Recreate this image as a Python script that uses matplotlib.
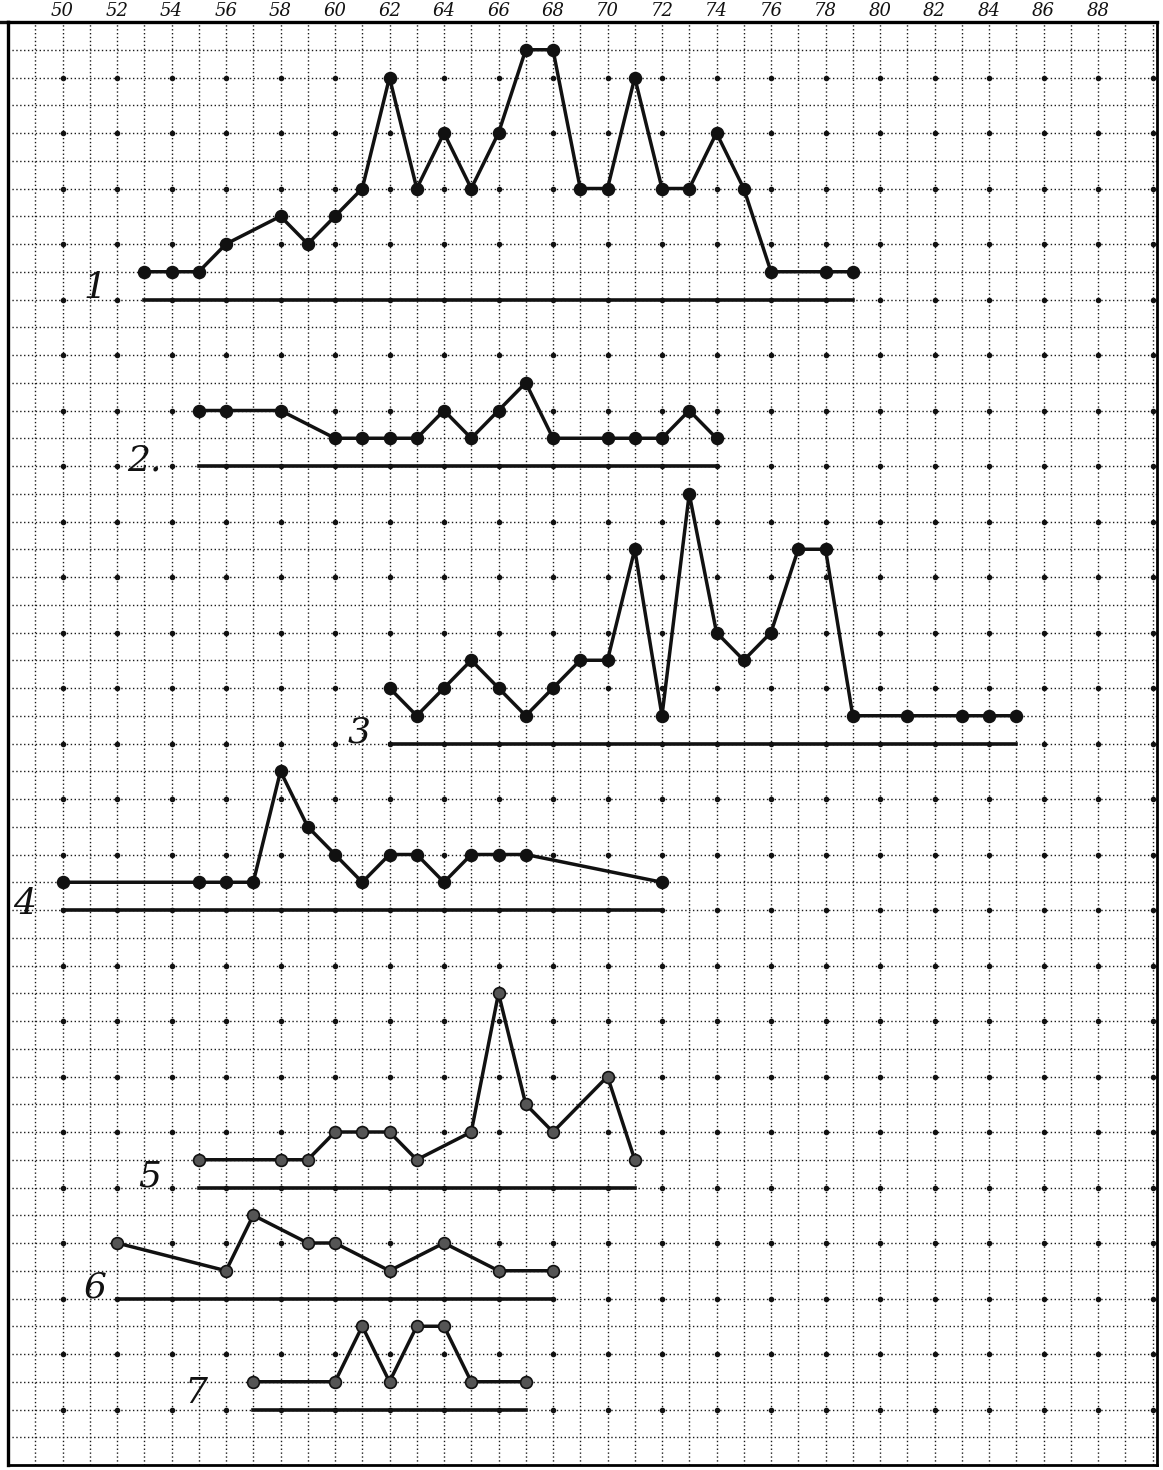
import numpy as np
import matplotlib.pyplot as plt

# ages along the top scale
top_ticks = list(range(50, 90, 2))

# each curve: ages, heights above its own base line (in squares of the paper)
s1_x = [53, 54, 55, 56, 58, 59, 60, 61, 62, 63, 64, 65, 66, 67, 68, 69, 70, 71, 72, 73, 74, 75, 76, 78, 79]
s1_v = [1, 1, 1, 2, 3, 2, 3, 4, 8, 4, 6, 4, 6, 9, 9, 4, 4, 8, 4, 4, 6, 4, 1, 1, 1]

s2_x = [55, 56, 58, 60, 61, 62, 63, 64, 65, 66, 67, 68, 70, 71, 72, 73, 74]
s2_v = [2, 2, 2, 1, 1, 1, 1, 2, 1, 2, 3, 1, 1, 1, 1, 2, 1]

s3_x = [62, 63, 64, 65, 66, 67, 68, 69, 70, 71, 72, 73, 74, 75, 76, 77, 78, 79, 81, 83, 84, 85]
s3_v = [2, 1, 2, 3, 2, 1, 2, 3, 3, 7, 1, 9, 4, 3, 4, 7, 7, 1, 1, 1, 1, 1]

s4_x = [50, 55, 56, 57, 58, 59, 60, 61, 62, 63, 64, 65, 66, 67, 72]
s4_v = [1, 1, 1, 1, 5, 3, 2, 1, 2, 2, 1, 2, 2, 2, 1]

s5_x = [55, 58, 59, 60, 61, 62, 63, 65, 66, 67, 68, 70, 71]
s5_v = [1, 1, 1, 2, 2, 2, 1, 2, 7, 3, 2, 4, 1]

s6_x = [52, 56, 57, 59, 60, 62, 64, 66, 68]
s6_v = [2, 1, 3, 2, 2, 1, 2, 1, 1]

s7_x = [57, 60, 61, 62, 63, 64, 65, 67]
s7_v = [1, 1, 3, 1, 3, 3, 1, 1]

labels = ["1", "2.", "3", "4", "5", "6", "7"]
series = [(s1_x, s1_v), (s2_x, s2_v), (s3_x, s3_v), (s4_x, s4_v),
          (s5_x, s5_v), (s6_x, s6_v), (s7_x, s7_v)]

# layout: paper row of each base line and where the numbers sit
base_rows = [10, 16, 26, 32, 42, 46, 50]
label_pos = [(51.2, 9.6), (53.0, 15.8), (60.9, 25.6), (48.6, 31.8),
             (53.2, 41.6), (51.2, 45.6), (54.9, 49.4)]

W, H = 1163, 1470
fig = plt.figure(figsize=(W / 100, H / 100), dpi=100)
ax = fig.add_axes([8 / W, 1 - 1465 / H, (1157 - 8) / W, (1465 - 22) / H])
x0, x1 = 48, 48 + (1157 - 8) / 27.25
ax.set_xlim(x0, x1)
ax.set_ylim(52, 0)

# graph paper
for gx in range(49, 91):
    ax.axvline(gx, color="#1a1a1a", lw=1.0, ls=(0, (1, 1.8)), zorder=1)
for gy in range(1, 52):
    ax.axhline(gy, color="#1a1a1a", lw=1.0, ls=(0, (1, 1.8)), zorder=1)
dx, dy = np.meshgrid(np.arange(50, 91, 2), np.arange(2, 52, 2))
ax.scatter(dx.ravel(), dy.ravel(), s=16, color="#111111", zorder=2, linewidths=0)

for i, ((xs, vs), base) in enumerate(zip(series, base_rows)):
    ys = [base - v for v in vs]
    face = "#111111" if i < 4 else "#555555"
    ax.plot(xs, ys, color="#111111", lw=2.5, marker="o", ms=8.5,
            mfc=face, mec="#111111", mew=1.2, zorder=4)
    ax.plot([xs[0], xs[-1]], [base, base], color="#111111", lw=2.6, zorder=3)
    lx, ly = label_pos[i]
    ax.text(lx, ly, labels[i], fontsize=26, family="DejaVu Serif",
            style="italic", ha="center", va="center", color="#111111")

for t in top_ticks:
    ax.text(t, -0.4, str(t), fontsize=13, family="DejaVu Serif",
            style="italic", ha="center", va="center", color="#111111",
            clip_on=False)

ax.set_xticks([])
ax.set_yticks([])
for side in ["left", "top"]:
    ax.spines[side].set_linewidth(2.4)
for side in ["right", "bottom"]:
    ax.spines[side].set_linewidth(2.0)
ax.plot([x0 - 0.3, x0], [0, 0], color="#111111", lw=2.4, clip_on=False)

fig.savefig("out.png", dpi=100)
